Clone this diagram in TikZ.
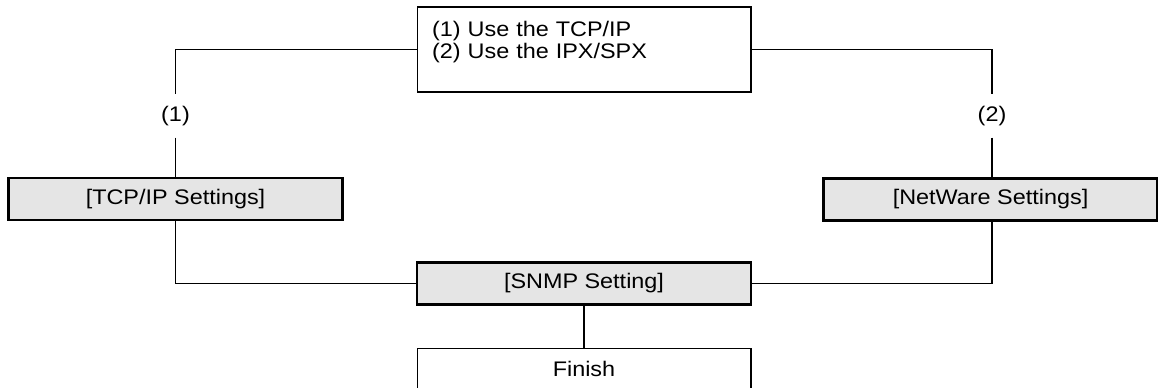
\documentclass[tikz,border=0pt]{standalone}
\usepackage{fontspec}
\setmainfont[FakeStretch=1.11]{Liberation Sans}
\usetikzlibrary{positioning}

\begin{document}
\begin{tikzpicture}[x=0.02cm,y=-0.02cm,font=\fontsize{12}{11.1}\selectfont,line width=0.6pt,plainbox/.style={draw,minimum width=6.68cm,minimum height=0.84cm,inner sep=0pt},setbox/.style={draw,line width=1.5pt,fill=black!10,minimum width=6.68cm,minimum height=0.84cm,inner sep=0pt},lbl/.style={minimum height=0.84cm,inner sep=0pt}]
\useasboundingbox (0,0) rectangle (1158,387);\clip (0,0) rectangle (1158,387);
\node[plainbox, align=left, text width=6.08cm, inner xsep=0.3cm, minimum height=1.7cm] (choice) at (584,49.5){(1) Use the TCP/IP\\(2) Use the IPX/SPX\\\mbox{}};
\node[lbl] (lab1) at (175.5,116){(1)};
\node[lbl] (lab2) at (992,116){(2)};
\node[setbox] (tcpip) at (175.5,199){[TCP/IP Settings]};
\node[setbox] (netware) at (990.5,199.5){[NetWare Settings]};
\node[setbox] (snmp) at (584,283.5){[SNMP Setting]};
\node[plainbox, below=0.84cm of snmp] (finish){Finish};
\draw (choice) -| (lab1);\draw (lab1) -- (tcpip);\draw (choice) -| (lab2);\draw (lab2) -- (lab2 |- netware.north);
\draw (tcpip) |- (snmp);\draw (netware.south -| lab2) |- (snmp);\draw (snmp) -- (finish);
\end{tikzpicture}
\end{document}
